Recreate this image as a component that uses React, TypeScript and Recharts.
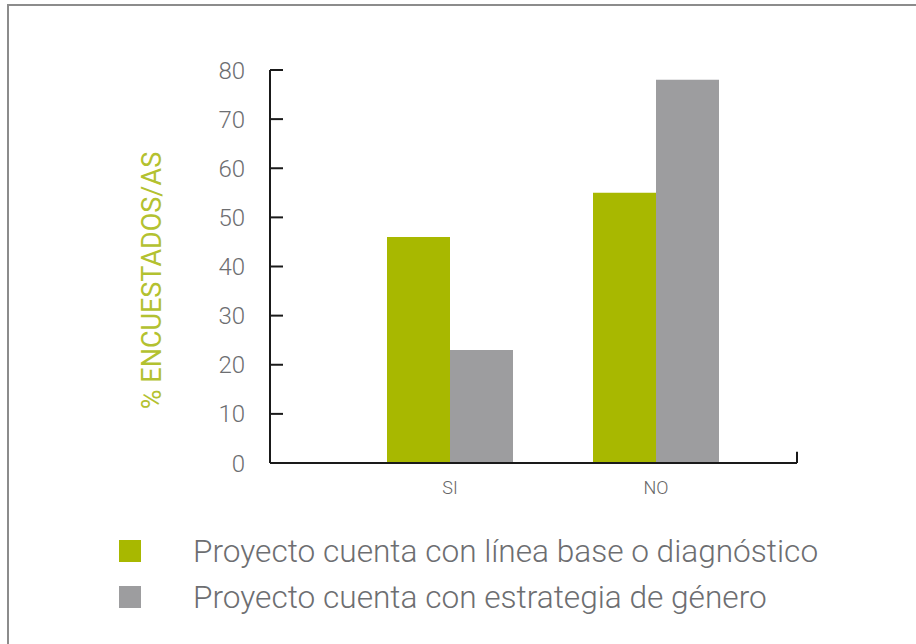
import React from 'react';
import { BarChart, Bar, XAxis, YAxis, Legend, ReferenceLine } from 'recharts';

const categories = ['SI', 'NO'];
const lineaBase = [46, 55];
const estrategia = [23, 78];
const yTicks = [0, 10, 20, 30, 40, 50, 60, 70, 80];
const seriesNames = [
  'Proyecto cuenta con línea base o diagnóstico',
  'Proyecto cuenta con estrategia de género',
];
const yLabel = '% ENCUESTADOS/AS';

const GREEN = '#a8b800';
const GRAY = '#9d9d9f';
const TEXT = '#6d6e71';
const FONT = 'Roboto, "DejaVu Sans", sans-serif';

const data = categories.map((c, i) => ({ cat: c, base: lineaBase[i], estr: estrategia[i] }));

const renderLegend = (props: any) => {
  const payload = [...(props.payload || [])].sort(
    (a: any, b: any) => seriesNames.indexOf(a.value) - seriesNames.indexOf(b.value)
  );
  return (
    <div style={{ fontFamily: FONT }}>
      {payload.map((p: any) => (
        <div key={p.value} style={{ display: 'flex', alignItems: 'center', height: 46 }}>
          <span style={{ display: 'inline-block', width: 22, height: 22, background: p.color }} />
          <span style={{ marginLeft: 52, fontSize: 31.6, fontWeight: 300, color: TEXT, whiteSpace: 'nowrap' }}>{p.value}</span>
        </div>
      ))}
    </div>
  );
};

const renderYLabel = (props: any) => {
  const vb = props.viewBox || {};
  const cx = 152;
  const cy = vb.y + vb.height / 2 + 14;
  return (
    <text
      x={cx}
      y={cy}
      transform={`rotate(-90, ${cx}, ${cy})`}
      textAnchor="middle"
      dominantBaseline="central"
      fill="#b3c130"
      fontSize={27}
      fontFamily={FONT}
    >
      {yLabel}
    </text>
  );
};

export default function App() {
  return (
    <div style={{ position: 'absolute', left: 0, top: 0, width: 916, height: 644, background: '#fff' }}>
      <BarChart
        width={916}
        height={644}
        data={data}
        margin={{ top: 70, right: 119, bottom: 151, left: 0 }}
        barCategoryGap={40}
        barGap={0}
      >
        <XAxis
          dataKey="cat"
          height={30}
          padding={{ left: 77, right: 38 }}
          axisLine={{ stroke: '#1a1a1a', strokeWidth: 2 }}
          tickLine={false}
          tickSize={0}
          tickMargin={18}
          tick={{ fontSize: 18, fill: '#666', fontFamily: FONT, fontWeight: 300 }}
        />
        <XAxis xAxisId="edge" type="number" domain={[0, 1]} hide />
        <YAxis
          width={270}
          domain={[0, 80]}
          ticks={yTicks}
          interval={0}
          axisLine={{ stroke: '#1a1a1a', strokeWidth: 2 }}
          tickLine={{ stroke: '#1a1a1a', strokeWidth: 2 }}
          tickSize={-13}
          tickMargin={38}
          tick={{ fontSize: 24, fill: TEXT, fontFamily: FONT, fontWeight: 300 }}
          label={renderYLabel}
        />
        <ReferenceLine
          xAxisId="edge"
          segment={[{ x: 1, y: 0 }, { x: 1, y: 2.3 }]}
          stroke="#1a1a1a"
          strokeWidth={2}
        />
        <Legend
          layout="vertical"
          align="center"
          verticalAlign="middle"
          wrapperStyle={{ left: 119, top: 528, width: 780 }}
          content={renderLegend}
        />
        <Bar dataKey="base" name={seriesNames[0]} fill={GREEN} isAnimationActive={false} />
        <Bar dataKey="estr" name={seriesNames[1]} fill={GRAY} isAnimationActive={false} />
      </BarChart>
      <div
        style={{
          position: 'absolute',
          left: 7,
          top: 4,
          right: 0,
          bottom: 0,
          borderTop: '2px solid #8c8c8c',
          borderLeft: '2px solid #8c8c8c',
          pointerEvents: 'none',
        }}
      />
    </div>
  );
}
